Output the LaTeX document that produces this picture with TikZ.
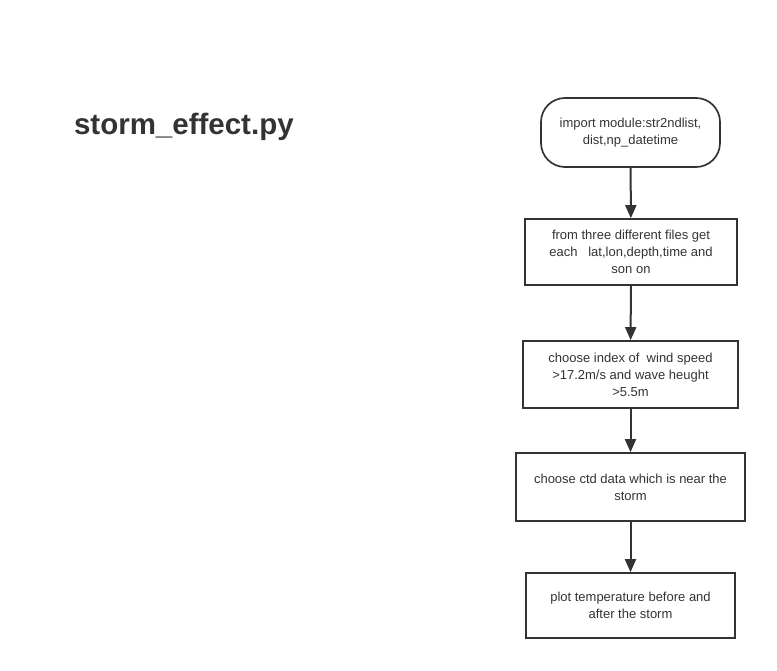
\documentclass[tikz,border=0pt]{standalone}
\usepackage{fontspec}
\setmainfont{Liberation Sans}
\usepackage{xcolor}
\usetikzlibrary{arrows.meta}
\usetikzlibrary{positioning}
\definecolor{ink}{HTML}{333333}

\begin{document}
\begin{tikzpicture}[
    x=1pt, y=-1pt,
    box/.style={rectangle, draw=ink, line width=1.7pt, text=ink, align=center,
        font=\fontsize{13}{17}\selectfont, inner sep=0pt},
    startbox/.style={box, rounded corners=24pt},
    flow/.style={draw=ink, line width=2pt, -{Triangle[length=13pt, width=11pt]}}
]
    \useasboundingbox (0,0) rectangle (777,671);
    \node[text=ink, font=\fontsize{29.5}{34}\selectfont\bfseries, anchor=west] (title) at (70.5,127) {storm\_effect.py};

    \node[startbox, minimum width=179pt, minimum height=69pt] (s1) at (630.5,132.5)
        {import module:str2ndlist,\\dist,np\_datetime};
    \node[box, minimum width=212pt, minimum height=66pt] (s2) at (631,252)
        {from three different files get\\each\ \ \ lat,lon,depth,time and\\son on};
    \node[box, minimum width=215pt, minimum height=67pt] (s3) at (630.5,374.5)
        {choose index of\ \ wind speed\\>17.2m/s and wave heught\\>5.5m};
    \node[box, minimum width=229pt, minimum height=68pt] (s4) at (630.5,487)
        {choose ctd data which is near the\\storm};
    \node[box, minimum width=209pt, minimum height=65pt] (s5) at (630.5,605.5)
        {plot temperature before and\\after the storm};

    \foreach \a/\b in {s1/s2, s2/s3, s3/s4, s4/s5} {
        \draw[flow] (\a) -- (\b);
    }
\end{tikzpicture}
\end{document}
